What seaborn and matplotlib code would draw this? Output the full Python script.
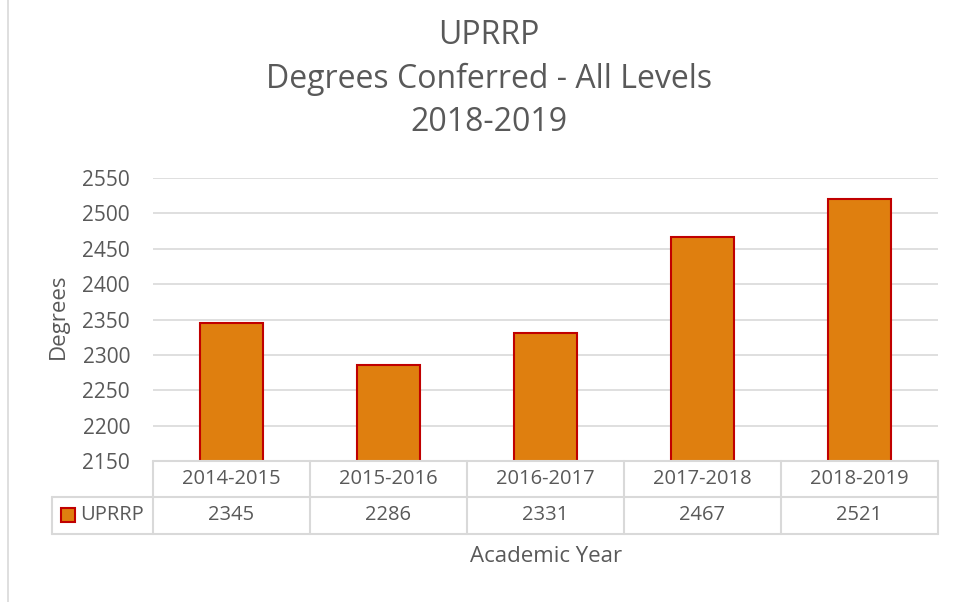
import matplotlib
matplotlib.use("agg")
import matplotlib.pyplot as plt
import matplotlib.transforms as mtransforms
from matplotlib.lines import Line2D
from matplotlib.patches import Rectangle
import seaborn as sns
import pandas as pd

years = ["2014-2015", "2015-2016", "2016-2017", "2017-2018", "2018-2019"]
degrees = [2345, 2286, 2331, 2467, 2521]
series_name = "UPRRP"
title_lines = ["UPRRP", "Degrees Conferred - All Levels", "2018-2019"]

BAR_COLOR = "#DF7F0F"
EDGE_COLOR = "#C00000"
TEXT_COLOR = "#595959"
GRID_COLOR = "#D9D9D9"

sns.set_style("white")
plt.rcParams['font.family'] = ['Open Sans', 'DejaVu Sans']

W, H = 960, 602
fig = plt.figure(figsize=(W / 100, H / 100), dpi=100)

def fx(x):
    return x / W

def fy(y):
    return 1 - y / H

ax = fig.add_axes([fx(153), fy(461), fx(938) - fx(153), fy(178) - fy(461)])

df = pd.DataFrame({"Year": years, "Degrees": degrees})
sns.barplot(data=df, x="Year", y="Degrees", ax=ax, color=BAR_COLOR,
            width=0.4, edgecolor=EDGE_COLOR, linewidth=1.5, saturation=1)

ax.set_xlim(-0.5, len(years) - 0.5)
ax.set_ylim(2150, 2550)
ax.set_yticks(range(2150, 2551, 50))
ax.yaxis.grid(True, color=GRID_COLOR, linewidth=1.2)
ax.set_axisbelow(True)
for s in ax.spines.values():
    s.set_visible(False)
ax.set_xticks([])
ax.set_xlabel("")
ax.tick_params(axis="y", length=0, labelsize=15, labelcolor=TEXT_COLOR, pad=16.5)
ax.set_ylabel("")
fig.text(fx(58), fy(316), "Degrees", rotation=90, ha="center", va="center",
         fontsize=16, color=TEXT_COLOR)

# title
for txt, y in zip(title_lines, [36, 79, 123]):
    fig.text(fx(489), fy(y), txt, ha="center", va="center", fontsize=23, color=TEXT_COLOR)

# data table below the axes
tr = mtransforms.blended_transform_factory(ax.transData, fig.transFigure)
n = len(years)
y_top, y_mid, y_bot = fy(461), fy(497), fy(534)

def hline(y, x0, x1):
    fig.add_artist(Line2D([x0, x1], [y, y], color=GRID_COLOR, linewidth=1.5))

def vline(x, y0, y1):
    fig.add_artist(Line2D([x, x], [y0, y1], color=GRID_COLOR, linewidth=1.5))

hline(y_top, fx(153), fx(938))
hline(y_mid, fx(52), fx(938))
hline(y_bot, fx(52), fx(938))
vline(fx(52), y_mid, y_bot)
for i in range(n + 1):
    xb = ax.transData.transform((i - 0.5, 0))[0]
    xf = fig.transFigure.inverted().transform((xb, 0))[0]
    vline(xf, y_top, y_bot)

for i, (yr, v) in enumerate(zip(years, degrees)):
    fig.text(i, fy(479), yr, transform=tr, ha="center", va="center",
             fontsize=14.5, color=TEXT_COLOR)
    fig.text(i, fy(515), str(v), transform=tr, ha="center", va="center",
             fontsize=14.5, color=TEXT_COLOR)

fig.add_artist(Rectangle((fx(61), fy(522)), fx(14), fy(508) - fy(522),
                         facecolor=BAR_COLOR, edgecolor=EDGE_COLOR, linewidth=1.5))
fig.text(fx(80), fy(515), series_name, ha="left", va="center",
         fontsize=14.5, color=TEXT_COLOR)

fig.text(fx(546), fy(557), "Academic Year", ha="center", va="center",
         fontsize=16, color=TEXT_COLOR)

# chart frame edge on the left
fig.add_artist(Line2D([fx(8), fx(8)], [0, 1], color=GRID_COLOR, linewidth=1.2))

fig.savefig("out.png", dpi=100)
